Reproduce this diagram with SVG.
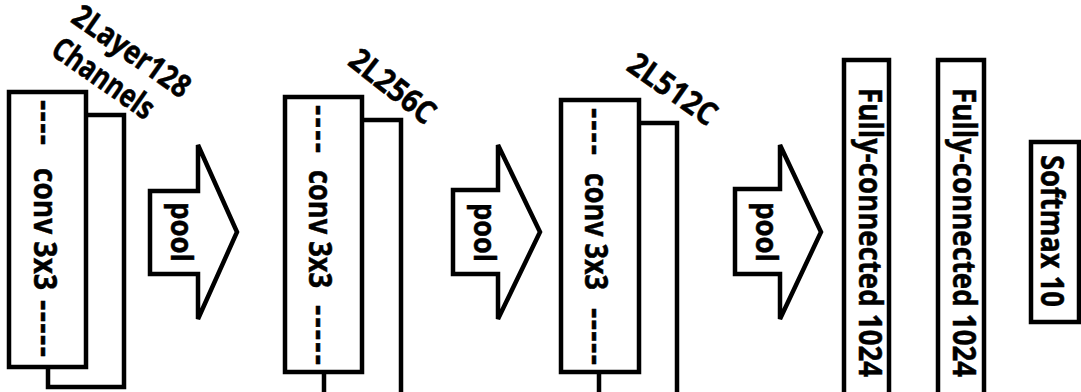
<svg xmlns="http://www.w3.org/2000/svg" width="1081" height="392" viewBox="0 0 1081 392">
  <style>
    .box { fill: #ffffff; stroke: #000000; stroke-width: 4.5; }
    .arrow { fill: #ffffff; stroke: #000000; stroke-width: 4.5; stroke-linejoin: miter; }
    .t { font-family: "Open Sans", "Noto Sans", "Liberation Sans", sans-serif; font-weight: bold; font-size: 32px; fill: #000000; stroke: #000000; stroke-width: 0.5; }
    .p { font-size: 31px; }
  </style>

  <rect x="0" y="0" width="1081" height="392" fill="#ffffff"/>

  <!-- conv block 1: 2 layers, 128 channels -->
  <g id="conv1">
    <rect class="box" x="48" y="115" width="76" height="272"/>
    <rect class="box" x="9" y="92" width="77" height="275"/>
    <text class="t" transform="translate(34,100) rotate(90)" textLength="45" lengthAdjust="spacing">----</text>
    <text class="t" transform="translate(34,168) rotate(90)" textLength="122" lengthAdjust="spacingAndGlyphs">conv 3x3</text>
    <text class="t" transform="translate(34,300) rotate(90)" textLength="57" lengthAdjust="spacing">-----</text>
    <text class="t" transform="translate(131,52) rotate(35)" x="0" y="10" text-anchor="middle" textLength="136" lengthAdjust="spacingAndGlyphs">2Layer128</text>
    <text class="t" transform="translate(103,79) rotate(35)" x="0" y="10" text-anchor="middle" textLength="117" lengthAdjust="spacingAndGlyphs">Channels</text>
  </g>

  <!-- conv block 2: 2 layers, 256 channels -->
  <g id="conv2">
    <rect class="box" x="324" y="120" width="77" height="290"/>
    <rect class="box" x="285" y="97" width="77" height="275"/>
    <text class="t" transform="translate(309,105) rotate(90)" textLength="48" lengthAdjust="spacing">----</text>
    <text class="t" transform="translate(309,170) rotate(90)" textLength="118" lengthAdjust="spacingAndGlyphs">conv 3x3</text>
    <text class="t" transform="translate(309,305) rotate(90)" textLength="60" lengthAdjust="spacing">-----</text>
    <text class="t" transform="translate(392,87) rotate(38)" x="0" y="10" text-anchor="middle" textLength="100" lengthAdjust="spacingAndGlyphs">2L256C</text>
  </g>

  <!-- conv block 3: 2 layers, 512 channels -->
  <g id="conv3">
    <rect class="box" x="599" y="123" width="78" height="290"/>
    <rect class="box" x="561" y="100" width="78" height="272"/>
    <text class="t" transform="translate(585,108) rotate(90)" textLength="47" lengthAdjust="spacing">----</text>
    <text class="t" transform="translate(585,173) rotate(90)" textLength="117" lengthAdjust="spacingAndGlyphs">conv 3x3</text>
    <text class="t" transform="translate(585,308) rotate(90)" textLength="57" lengthAdjust="spacing">-----</text>
    <text class="t" transform="translate(672,90) rotate(35)" x="0" y="10" text-anchor="middle" textLength="101" lengthAdjust="spacingAndGlyphs">2L512C</text>
  </g>

  <!-- dense layers -->
  <g id="fc1">
    <rect class="box" x="844" y="60" width="45" height="350"/>
    <text class="t" transform="translate(859,88) rotate(90)" textLength="289" lengthAdjust="spacingAndGlyphs">Fully-connected 1024</text>
  </g>
  <g id="fc2">
    <rect class="box" x="938" y="60" width="46" height="350"/>
    <text class="t" transform="translate(953,88) rotate(90)" textLength="289" lengthAdjust="spacingAndGlyphs">Fully-connected 1024</text>
  </g>
  <g id="softmax">
    <rect class="box" x="1031" y="142" width="48" height="180"/>
    <text class="t" transform="translate(1041,155) rotate(90)" textLength="152" lengthAdjust="spacingAndGlyphs">Softmax 10</text>
  </g>

  <!-- pooling arrows between stages -->
  <g id="connectors">
    <g id="pool1">
      <polygon class="arrow" points="150,191 198,191 198,145 237,232 198,319 198,274 150,274"/>
      <text class="t p" transform="translate(171,202) rotate(90)" textLength="60" lengthAdjust="spacingAndGlyphs">pool</text>
    </g>
    <g id="pool2">
      <polygon class="arrow" points="453,190 498,190 498,145 540,232 498,319 498,274 453,274"/>
      <text class="t p" transform="translate(474,203) rotate(90)" textLength="59" lengthAdjust="spacingAndGlyphs">pool</text>
    </g>
    <g id="pool3">
      <polygon class="arrow" points="735,189 780,189 780,145 821,232 780,319 780,274 735,274"/>
      <text class="t p" transform="translate(756,202) rotate(90)" textLength="60" lengthAdjust="spacingAndGlyphs">pool</text>
    </g>
  </g>
</svg>
